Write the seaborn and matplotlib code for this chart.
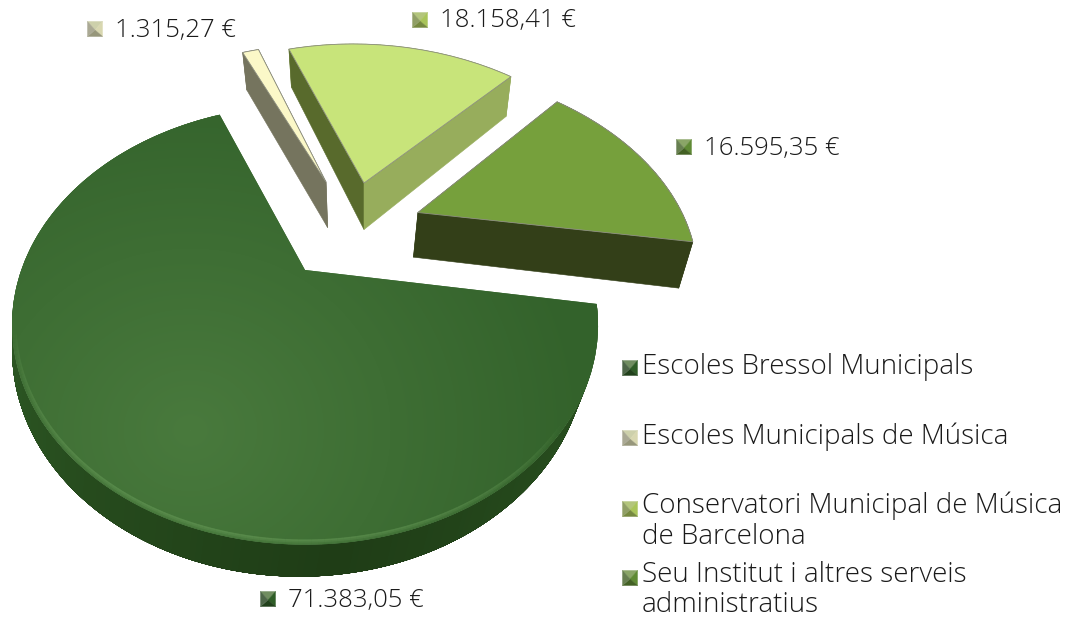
import numpy as np
import matplotlib
matplotlib.use("Agg")
import matplotlib.pyplot as plt
from matplotlib.collections import PolyCollection, LineCollection
from matplotlib.colors import to_rgb
from matplotlib.transforms import Transform
import seaborn as sns

categories = ["Escoles Bressol Municipals", "Escoles Municipals de Música",
              "Conservatori Municipal de Música\nde Barcelona",
              "Seu Institut i altres serveis\nadministratius"]
values = [71383.05, 1315.27, 18158.41, 16595.35]
top_colors = ["#3c6b32", "#fbf8c8", "#c8e47a", "#76a03c"]

# layout / style (not data)
OFFSETS = [(0, 0), (0.083, 0.478), (0.2325, 0.472), (0.428, 0.30)]
RADII = [1.0, 1.03, 1.04, 1.0]
DEPTH = [24, 51, 52, 48]
XSCALE = [0.98, 0.97, 0.967, 0.965]
VANISH = [20, 380, 364, 290]
WALL_T1 = ["#2d5a24", "#75745e", "#97ad5c", "#333f18"]
WALL_T2 = ["#2d5a24", "#75745e", "#586a2c", "#333f18"]
CX, CY, AX_, BY_, K = 305.0, 270.0, 283.7, 206.0, 0.25
FONT = "Open Sans"

sns.set_theme(style="white")
plt.rcParams["font.family"] = [FONT, "DejaVu Sans"]


def project(x, y):
    w = 1 + K * np.asarray(y)
    return CX + AX_ * np.asarray(x) / w, CY - BY_ * np.asarray(y) / w


def project_low(x, y, d, s, vx):
    px, py = project(x, y)
    w = 1 + K * np.asarray(y)
    return vx + (px - vx) * s, py + d / w


class Persp(Transform):
    input_dims = 2
    output_dims = 2
    is_separable = False
    has_inverse = False

    def transform_non_affine(self, v):
        v = np.asarray(v)
        px, py = project(v[:, 0], v[:, 1])
        return np.column_stack([px, py])


fig = plt.figure(figsize=(10.88, 6.20), dpi=100, facecolor="white")
ax = fig.add_axes([0, 0, 1, 1])
wedges, _ = ax.pie(values, startangle=350.9, counterclock=False,
                   colors=sns.color_palette(top_colors),
                   wedgeprops=dict(linewidth=0))
ax.set_aspect("auto")
ax.set_xlim(0, 1088)
ax.set_ylim(620, 0)
ax.axis("off")
persp = Persp() + ax.transData


def quad(x0, y0, x1, y1, d, s, vx, t0=0.0, t1=1.0):
    a0 = project_low(x0, y0, d * t0, 1 - (1 - s) * t0, vx)
    a1 = project_low(x1, y1, d * t0, 1 - (1 - s) * t0, vx)
    b1 = project_low(x1, y1, d * t1, 1 - (1 - s) * t1, vx)
    b0 = project_low(x0, y0, d * t1, 1 - (1 - s) * t1, vx)
    return [(a0[0], a0[1]), (a1[0], a1[1]), (b1[0], b1[1]), (b0[0], b0[1])]


for i, w in enumerate(wedges):
    cx, cy = OFFSETS[i]
    r = RADII[i]
    w.set_center((cx, cy))
    w.set_radius(r)
    w.set_transform(persp)
    w.set_zorder(3)
    if i > 0:
        w.set_edgecolor("#8d8f80")
        w.set_linewidth(0.6)
    t1, t2 = np.radians(w.theta1), np.radians(w.theta2)
    th = np.linspace(t1, t2, max(8, int(np.degrees(t2 - t1))))
    xs, ys = cx + r * np.cos(th), cy + r * np.sin(th)
    d, s, vx = DEPTH[i], XSCALE[i], VANISH[i]
    polys, cols, order = [], [], []
    if i == 0:
        # strips overlap downward and sideways so no seams show
        for t in np.linspace(0.9, 0, 10):
            for a in range(len(th) - 2):
                deg = np.degrees((th[a] + th[a + 1]) / 2) % 360
                f = np.clip(1 - abs(deg - 275) / 95, 0, 1)
                base = (1 - f) * np.array(to_rgb("#2b5523")) + f * np.array(to_rgb("#1c3714"))
                polys.append(quad(xs[a], ys[a], xs[a + 2], ys[a + 2], d, s, vx, t, 1.0))
                cols.append(tuple(np.clip(base * (1.1 - 0.32 * t), 0, 1)))
        ax.add_collection(PolyCollection(polys, facecolors=cols, edgecolors="none",
                                         linewidths=0, zorder=2), autolim=False)
    else:
        for a in range(len(th) - 1):
            polys.append(quad(xs[a], ys[a], xs[a + 1], ys[a + 1], d, s, vx))
            cols.append(WALL_T1[i])
            order.append(ys[a] + 5)
        polys.append(quad(cx, cy, xs[0], ys[0], d, s, vx))
        cols.append(WALL_T1[i])
        order.append((cy + ys[0]) / 2)
        polys.append(quad(cx, cy, xs[-1], ys[-1], d, s, vx))
        cols.append(WALL_T2[i])
        order.append((cy + ys[-1]) / 2)
        idx = np.argsort(order)[::-1]
        polys = [polys[j] for j in idx]
        cols = [cols[j] for j in idx]
        ax.add_collection(PolyCollection(polys, facecolors=cols, edgecolors=cols,
                                         linewidths=0.4, zorder=2), autolim=False)

# soft shading of the large slice
yy, xx = np.mgrid[0:620, 0:700]
dist = np.clip(np.hypot(xx - 190, (yy - 430) * 1.1) / 400, 0, 1)[..., None]
shade = (1 - dist) * np.array(to_rgb("#497a3d")) + dist * np.array(to_rgb("#33622b"))
img = ax.imshow(shade, extent=(0, 700, 620, 0), zorder=4, aspect="auto", interpolation="bilinear")
img.set_clip_path(wedges[0])
ax.set_xlim(0, 1088)
ax.set_ylim(620, 0)

# soft bevel highlight on the large slice
th = np.radians(np.arange(195, 322, 1.0))
for rad, lw, al in [(0.992, 3.5, 0.22), (0.99, 2.2, 0.3), (0.988, 1.0, 0.3)]:
    px, py = project(rad * np.cos(th), rad * np.sin(th))
    pts = np.column_stack([px, py]).reshape(-1, 1, 2)
    segs = np.concatenate([pts[:-1], pts[1:]], axis=1)
    prof = np.sin(np.linspace(0, np.pi, len(segs))) ** 0.7
    ax.add_collection(LineCollection(segs, colors=[(0.40, 0.60, 0.34, al * p) for p in prof],
                                     linewidths=lw, zorder=5, capstyle="butt"), autolim=False)


def marker(x, y, color, size=7.5):
    c = np.array(to_rgb(color))
    tr = [(x - size, y - size), (x + size, y - size), (x + size, y + size), (x - size, y + size)]
    m = (x, y + 1)
    tints = [c * 0.55 + 0.45 * np.array([.75, .78, .65]), c, c * 0.7, c * 0.55 + 0.2]
    polys = [[tr[k], tr[(k + 1) % 4], m] for k in range(4)]
    cols = [tuple(np.clip(tints[k], 0, 1)) for k in range(4)]
    ax.add_collection(PolyCollection(polys, facecolors=cols, edgecolors=cols,
                                     linewidths=0.3, zorder=6), autolim=False)


def euro(v):
    return f"{v:,.2f}".replace(",", "X").replace(".", ",").replace("X", ".") + " €"


marker_colors = ["#2f5d27", "#d8d7b0", "#a9c45a", "#5f8a34"]
val_pos = [(268, 599), (95, 29), (420, 20), (684, 147)]
for v, c, (x, y) in zip(values, marker_colors, val_pos):
    marker(x, y, c)
    ax.text(x + 20, y + 1, euro(v), fontsize=18.5, color="#1a1a1a", va="center", ha="left",
            fontweight="light", zorder=6)

leg_y = [367, 437, 521, 590]
for lab, c, y in zip(categories, marker_colors, leg_y):
    n = lab.count("\n")
    marker(630, y - (13 if n else 0) + 1, c)
    ax.text(642, y, lab, fontsize=20, color="#1a1a1a", va="center", ha="left",
            linespacing=1.12, fontweight="light", zorder=6)

fig.savefig("out.png", dpi=100, facecolor="white")
